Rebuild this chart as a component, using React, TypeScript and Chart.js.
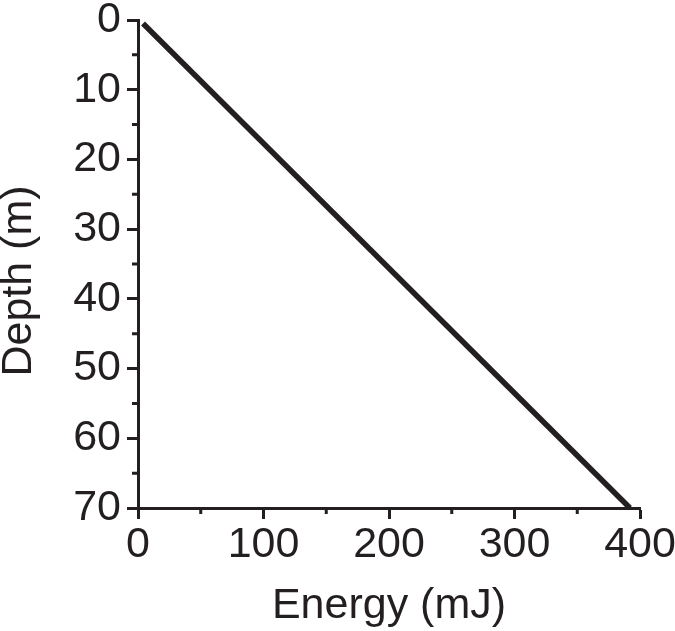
import React, { useEffect, useRef } from "react";
import { Chart, registerables } from "chart.js";

Chart.register(...registerables);

const energy: number[] = [4, 392];
const depth: number[] = [0.5, 70];
const xMinorTicks: number[] = [50, 150, 250, 350];
const yMinorTicks: number[] = [5, 15, 25, 35, 45, 55, 65];
const xTitle = "Energy (mJ)";
const yTitle = "Depth (m)";

const INK = "#231f20";
const FONT = "'Liberation Sans', Arial, Helvetica, sans-serif";

const minorTickPlugin = {
  id: "minorTicks",
  afterDraw(chart: any) {
    const ctx = chart.ctx;
    const xs = chart.scales.x;
    const ys = chart.scales.y;
    ctx.save();
    ctx.strokeStyle = INK;
    ctx.lineWidth = 3;
    ctx.beginPath();
    for (const v of xMinorTicks) {
      const px = xs.getPixelForValue(v);
      ctx.moveTo(px, xs.top);
      ctx.lineTo(px, xs.top + 6);
    }
    for (const v of yMinorTicks) {
      const py = ys.getPixelForValue(v);
      ctx.moveTo(ys.right - 6, py);
      ctx.lineTo(ys.right, py);
    }
    ctx.stroke();
    // y-axis title (offset below the axis centre as in the reference)
    const area = chart.chartArea;
    ctx.translate(19, (area.top + area.bottom) / 2 + 17);
    ctx.rotate(-Math.PI / 2);
    ctx.fillStyle = INK;
    ctx.font = `43px ${FONT}`;
    ctx.textAlign = "center";
    ctx.textBaseline = "middle";
    ctx.fillText(yTitle, 0, 0);
    ctx.restore();
  },
};

export default function App() {
  const ref = useRef<HTMLCanvasElement | null>(null);
  useEffect(() => {
    if (!ref.current) return;
    const points = energy.map((e, i) => ({ x: e, y: depth[i] }));
    const chart = new Chart(ref.current, {
      type: "line",
      data: {
        datasets: [
          {
            data: points,
            borderColor: INK,
            borderWidth: 5.5,
            pointRadius: 0,
            fill: false,
            tension: 0,
            clip: false,
          } as any,
        ],
      },
      options: {
        responsive: false,
        animation: false,
        events: [],
        layout: { padding: { top: 20, right: 35, left: 0, bottom: 0 } },
        plugins: { legend: { display: false }, tooltip: { enabled: false } },
        scales: {
          x: {
            type: "linear",
            min: 0,
            max: 400,
            ticks: {
              stepSize: 100,
              color: INK,
              padding: 5,
              font: { family: FONT, size: 43, lineHeight: 1 },
            },
            grid: {
              drawOnChartArea: false,
              drawTicks: true,
              tickLength: 11,
              tickWidth: 3,
              tickColor: INK,
            },
            border: { display: true, color: INK, width: 3 },
            title: {
              display: true,
              text: xTitle,
              color: INK,
              font: { family: FONT, size: 43, lineHeight: 1 },
              padding: { top: 0, bottom: 3 },
            },
            afterFit(scale: any) {
              scale.height = 123;
              scale.paddingLeft = 0;
              scale.paddingRight = 0;
            },
          },
          y: {
            type: "linear",
            reverse: true,
            min: 0,
            max: 70,
            ticks: {
              stepSize: 10,
              color: INK,
              padding: 6,
              font: { family: FONT, size: 43, lineHeight: 1 },
            },
            grid: {
              drawOnChartArea: false,
              drawTicks: true,
              tickLength: 11,
              tickWidth: 3,
              tickColor: INK,
            },
            border: { display: true, color: INK, width: 3 },
            title: { display: false, text: yTitle },
            afterFit(scale: any) {
              scale.width = 138;
              scale.paddingTop = 0;
              scale.paddingBottom = 0;
            },
          },
        },
      },
      plugins: [minorTickPlugin],
    });
    return () => chart.destroy();
  }, []);
  return (
    <div style={{ position: "fixed", left: 0, top: 0, width: 675, height: 631, background: "#fff" }}>
      <canvas ref={ref} width={675} height={631} style={{ display: "block" }} />
    </div>
  );
}
